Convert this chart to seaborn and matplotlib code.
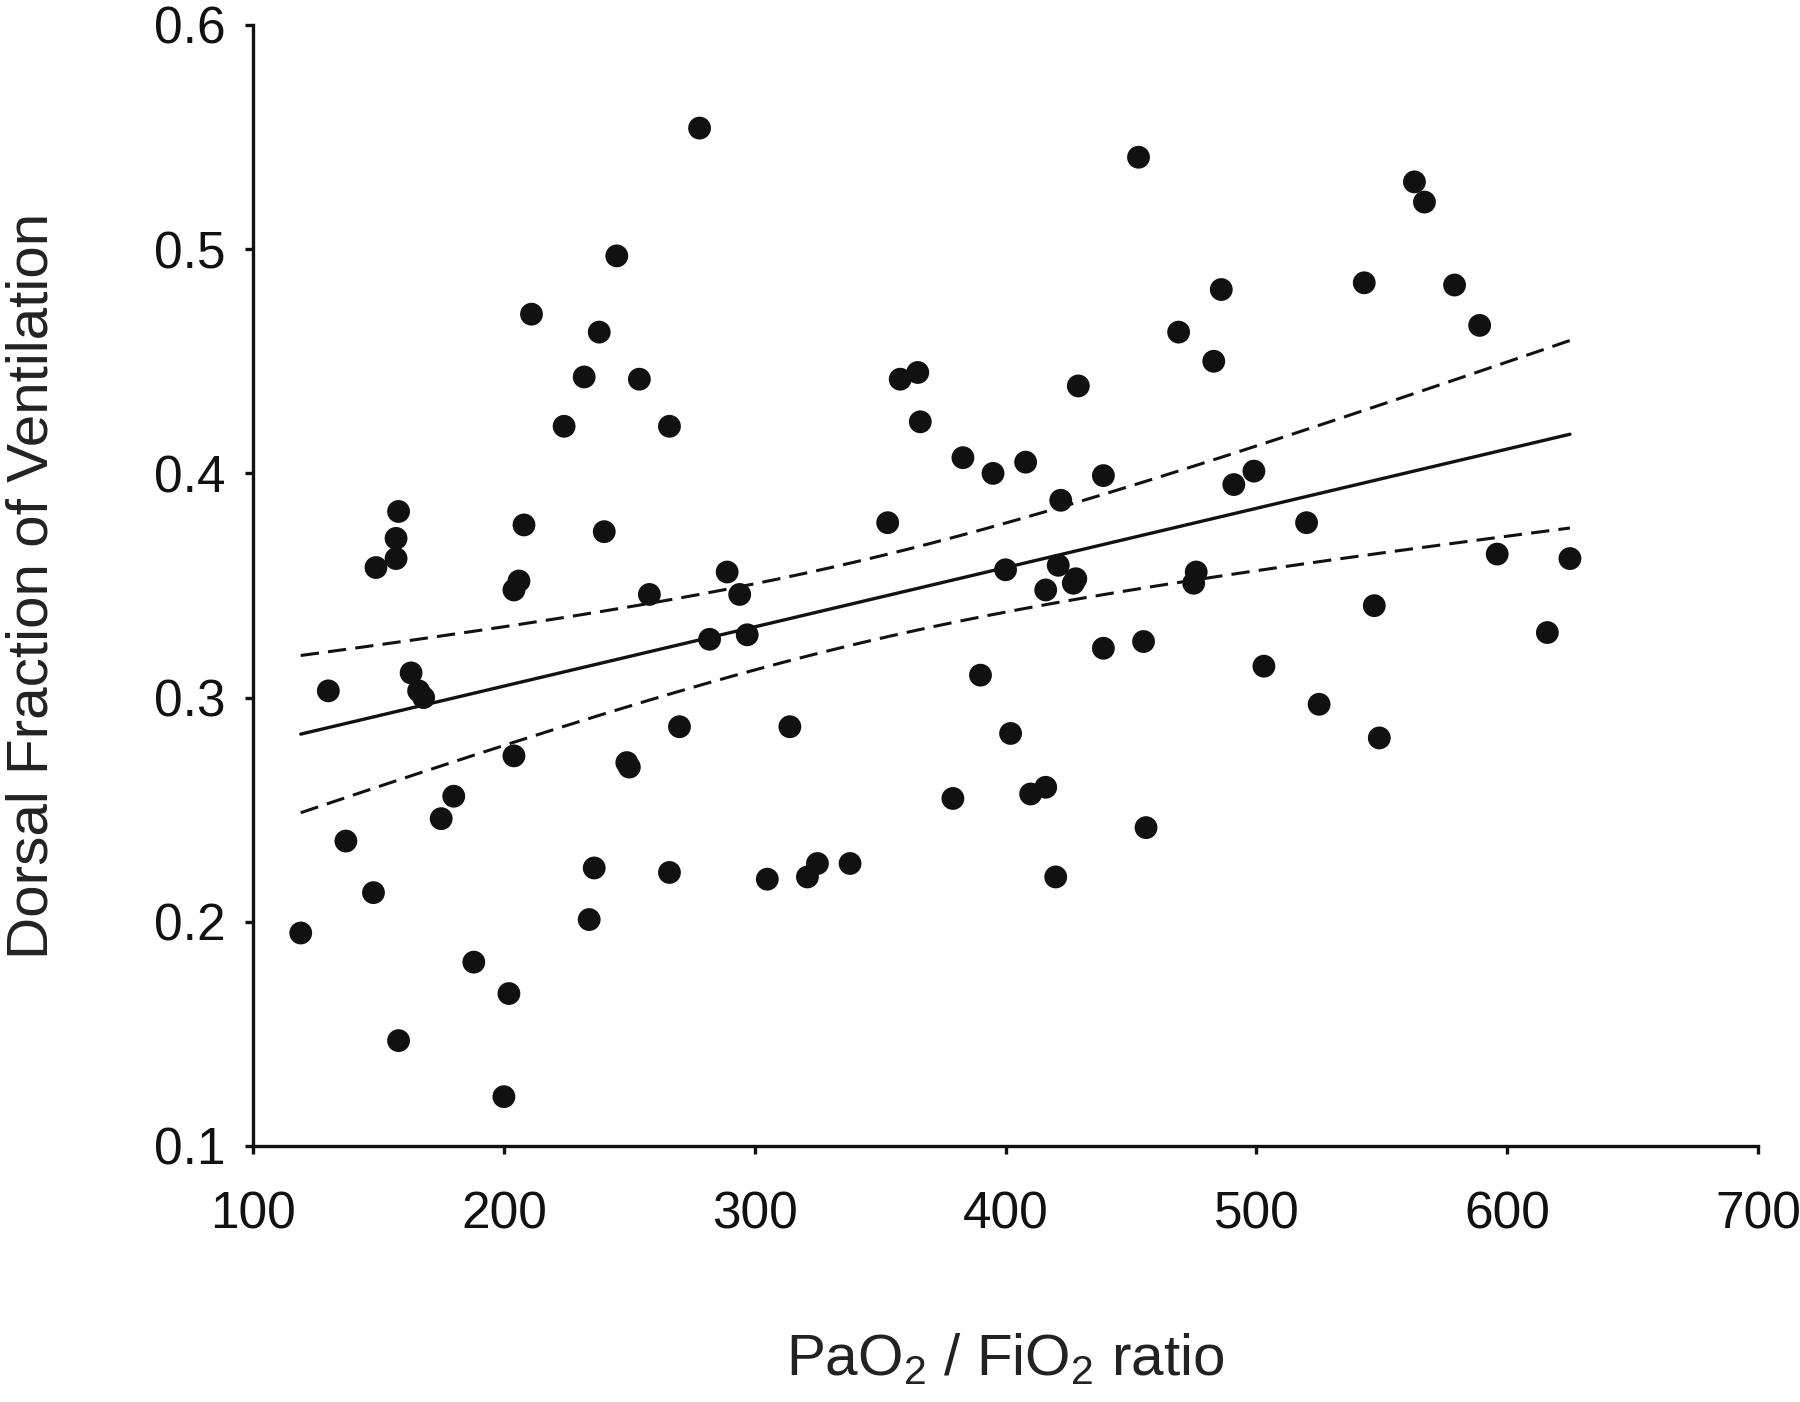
import numpy as np
import pandas as pd
import seaborn as sns
import matplotlib
matplotlib.use("Agg")
import matplotlib.pyplot as plt

# values
pf_ratio = [119, 130, 137, 148, 149, 158, 157, 157, 158, 163, 166, 168, 175, 180,
            188, 200, 202, 204, 204, 206, 208, 211, 224, 232, 234, 236, 238, 240,
            245, 249, 250, 254, 258, 266, 266, 270, 278, 282, 289, 294, 297, 305,
            314, 321, 325, 338, 353, 358, 365, 366, 379, 383, 390, 395, 400, 402,
            408, 410, 416, 416, 420, 421, 422, 427, 428, 429, 439, 439, 453, 455,
            456, 469, 476, 475, 483, 486, 491, 499, 503, 520, 525, 543, 547, 549,
            563, 567, 579, 589, 596, 616, 625]
dorsal_frac = [0.195, 0.303, 0.236, 0.213, 0.358, 0.147, 0.362, 0.371, 0.383, 0.311,
               0.303, 0.300, 0.246, 0.256, 0.182, 0.122, 0.168, 0.274, 0.348, 0.352,
               0.377, 0.471, 0.421, 0.443, 0.201, 0.224, 0.463, 0.374, 0.497, 0.271,
               0.269, 0.442, 0.346, 0.222, 0.421, 0.287, 0.554, 0.326, 0.356, 0.346,
               0.328, 0.219, 0.287, 0.220, 0.226, 0.226, 0.378, 0.442, 0.445, 0.423,
               0.255, 0.407, 0.310, 0.400, 0.357, 0.284, 0.405, 0.257, 0.348, 0.260,
               0.220, 0.359, 0.388, 0.351, 0.353, 0.439, 0.399, 0.322, 0.541, 0.325,
               0.242, 0.463, 0.356, 0.351, 0.450, 0.482, 0.395, 0.401, 0.314, 0.378,
               0.297, 0.485, 0.341, 0.282, 0.530, 0.521, 0.484, 0.466, 0.364, 0.329,
               0.362]

df = pd.DataFrame({"pf": pf_ratio, "dorsal": dorsal_frac})

# ordinary least squares fit with 95% confidence band of the mean
x = df["pf"].to_numpy(float)
y = df["dorsal"].to_numpy(float)
n = len(x)
slope, intercept = np.polyfit(x, y, 1)
resid = y - (intercept + slope * x)
s = np.sqrt(np.sum(resid ** 2) / (n - 2))
sxx = np.sum((x - x.mean()) ** 2)
T_CRIT = 1.987  # t(0.975, df=89)

grid = np.linspace(x.min(), x.max(), 200)
fit = intercept + slope * grid
half = T_CRIT * s * np.sqrt(1.0 / n + (grid - x.mean()) ** 2 / sxx)
fit_df = pd.DataFrame({"pf": grid, "fit": fit, "lo": fit - half, "hi": fit + half})

sns.set_theme(style="ticks")
plt.rcParams["font.family"] = ["Liberation Sans", "DejaVu Sans"]
plt.rcParams["mathtext.default"] = "regular"

fig = plt.figure(figsize=(18, 14.02), dpi=100)
ax = fig.add_axes([0.1406, 0.1826, 0.8361, 0.7996])

sns.scatterplot(data=df, x="pf", y="dorsal", ax=ax, color="#111111",
                s=270, edgecolor="none", zorder=3)
sns.lineplot(data=fit_df, x="pf", y="fit", ax=ax, color="#111111", lw=2.4)
for col in ["lo", "hi"]:
    sns.lineplot(data=fit_df, x="pf", y=col, ax=ax, color="#111111", lw=2.2,
                 linestyle=(0, (6, 3)))

ax.set_xlim(100, 700)
ax.set_ylim(0.1, 0.6)
ax.set_xticks(range(100, 701, 100))
ax.set_yticks([0.1, 0.2, 0.3, 0.4, 0.5, 0.6])
ax.set_yticklabels(["0.1", "0.2", "0.3", "0.4", "0.5", "0.6"])

for side in ["top", "right"]:
    ax.spines[side].set_visible(False)
for side in ["left", "bottom"]:
    ax.spines[side].set_linewidth(2.4)
    ax.spines[side].set_color("#111111")

ax.tick_params(direction="out", length=6, width=2.4, colors="#111111",
               labelsize=37)
ax.tick_params(axis="x", pad=26)
ax.tick_params(axis="y", pad=14)
ax.set_xlabel("PaO$_2$ / FiO$_2$ ratio", fontsize=42, color="#222222", labelpad=67)
ax.set_ylabel("Dorsal Fraction of Ventilation", fontsize=42, color="#222222",
              labelpad=68)

fig.savefig("out.png", dpi=100)
